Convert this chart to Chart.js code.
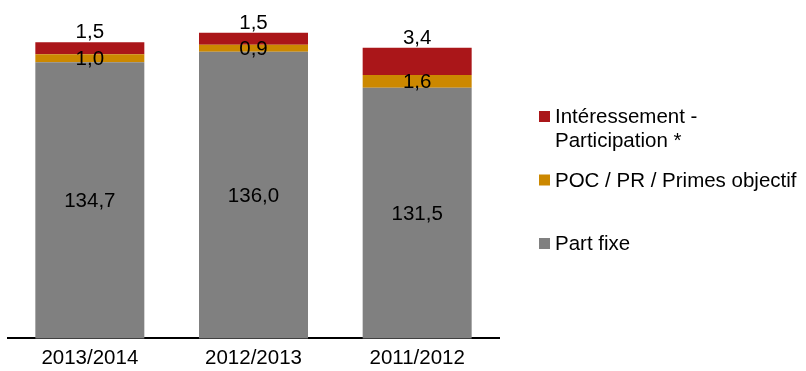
<!DOCTYPE html>
<html lang="fr">
<head>
<meta charset="utf-8">
<title>Rémunération</title>
<script src="https://cdn.jsdelivr.net/npm/chart.js@4.4.1/dist/chart.umd.min.js"></script>
<style>
  html, body { margin: 0; padding: 0; background: #fff; }
  #wrap { width: 806px; height: 371px; position: relative; }
</style>
</head>
<body>
<div id="wrap"><canvas id="chart"></canvas></div>
<script>
  // data
  const categories = ['2013/2014', '2012/2013', '2011/2012'];
  const partFixe = [134.7, 136.0, 131.5];
  const primes = [1.0, 0.9, 1.6];
  const interessement = [1.5, 1.5, 3.4];
  const seriesNames = ['Part fixe', 'POC / PR / Primes objectif', 'Intéressement -\nParticipation *'];
  const seriesColors = ['#808080', '#CC8800', '#AA1619'];

  const FONT = '"Liberation Sans", Arial, sans-serif';
  const FONT_SIZE = 20.5;
  const fmt = v => v.toFixed(1).replace('.', ',');

  // value labels: gray centered on visible part, orange centered, red above the bar
  const valueLabels = {
    id: 'valueLabels',
    afterDatasetsDraw(chart) {
      const ctx = chart.ctx;
      const area = chart.chartArea;
      ctx.save();
      ctx.font = FONT_SIZE + 'px ' + FONT;
      ctx.fillStyle = '#000';
      ctx.textAlign = 'center';
      chart.data.datasets.forEach((ds, i) => {
        const meta = chart.getDatasetMeta(i);
        meta.data.forEach((bar, j) => {
          const txt = fmt(ds.data[j]);
          if (i === 2) {
            ctx.textBaseline = 'alphabetic';
            ctx.fillText(txt, bar.x, bar.y - 4);
          } else {
            const bottom = Math.min(bar.base, area.bottom);
            ctx.textBaseline = 'middle';
            ctx.fillText(txt, bar.x, (bar.y + bottom) / 2 + 1);
          }
        });
      });
      ctx.restore();
    }
  };

  // legend on the right, top series first
  const sideLegend = {
    id: 'sideLegend',
    afterDraw(chart) {
      const ctx = chart.ctx;
      const x = 539, firstBaseline = 123, step = 63.5, lineH = 24;
      ctx.save();
      ctx.font = FONT_SIZE + 'px ' + FONT;
      ctx.textAlign = 'left';
      ctx.textBaseline = 'alphabetic';
      const sets = chart.data.datasets.slice().reverse();
      sets.forEach((ds, k) => {
        const base = firstBaseline + k * step;
        ctx.fillStyle = ds.backgroundColor;
        ctx.fillRect(x, base - 12, 11, 11);
        ctx.fillStyle = '#000';
        ds.label.split('\n').forEach((line, n) => {
          ctx.fillText(line, x + 16, base + n * lineH);
        });
      });
      ctx.restore();
    }
  };

  const ctx = document.getElementById('chart').getContext('2d');

  new Chart(ctx, {
    type: 'bar',
    data: {
      labels: categories,
      datasets: [
        { label: seriesNames[0], data: partFixe, backgroundColor: seriesColors[0] },
        { label: seriesNames[1], data: primes, backgroundColor: seriesColors[1] },
        { label: seriesNames[2], data: interessement, backgroundColor: seriesColors[2] }
      ]
    },
    options: {
      responsive: true,
      maintainAspectRatio: false,
      animation: false,
      events: [],
      layout: { padding: { left: 8, right: 307, top: 20, bottom: -8 } },
      datasets: {
        bar: { categoryPercentage: 1, barPercentage: 0.666, clip: 0, borderWidth: 0 }
      },
      plugins: {
        legend: { display: false },
        tooltip: { enabled: false }
      },
      scales: {
        x: {
          stacked: true,
          z: 1,
          grid: { display: false, drawTicks: false, tickLength: 0 },
          border: { display: true, color: '#000', width: 2 },
          ticks: { color: '#000', padding: 8, font: { family: FONT, size: FONT_SIZE } }
        },
        y: {
          stacked: true,
          display: false,
          min: 100,
          max: 140
        }
      }
    },
    plugins: [valueLabels, sideLegend]
  });
</script>
</body>
</html>
